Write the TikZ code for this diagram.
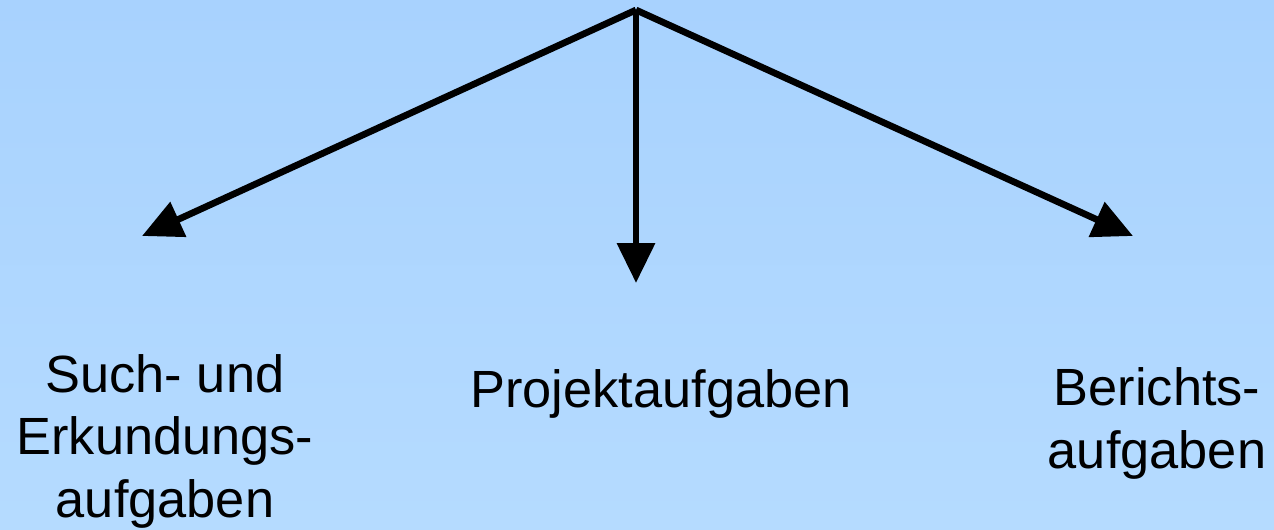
\documentclass[tikz,border=0pt]{standalone}
\usepackage{fontspec}
\setmainfont{Liberation Sans}
\usetikzlibrary{arrows.meta}
\definecolor{bgtop}{RGB}{168,210,254}
\definecolor{bgbot}{RGB}{181,219,255}
\begin{document}
\begin{tikzpicture}[x=0.02cm,y=-0.02cm,
  conn/.style={line width=3.8pt,-{Triangle[length=0.8cm,width=0.74cm]}},
  lbl/.style={font=\fontsize{29.8}{35.5}\selectfont,align=center,inner sep=0pt,anchor=base}]
\shade[top color=bgtop,bottom color=bgbot] (0,0) rectangle (1274,530);
\useasboundingbox (0,0) rectangle (1274,530);
\coordinate (top) at (636,10);
\coordinate (tl) at (142,236);
\coordinate (tm) at (636,283);
\coordinate (tr) at (1133,236);
\draw[conn] (top) -- (tl);
\draw[conn] (top) -- (tm);
\draw[conn] (top) -- (tr);
\node[lbl] (l) at (165,517) {Such- und\\Erkundungs-\\aufgaben};
\node[lbl] (m) at (661,407) {Projektaufgaben};
\node[lbl] (r) at (1157,468) {Berichts-\\aufgaben};
\end{tikzpicture}
\end{document}
